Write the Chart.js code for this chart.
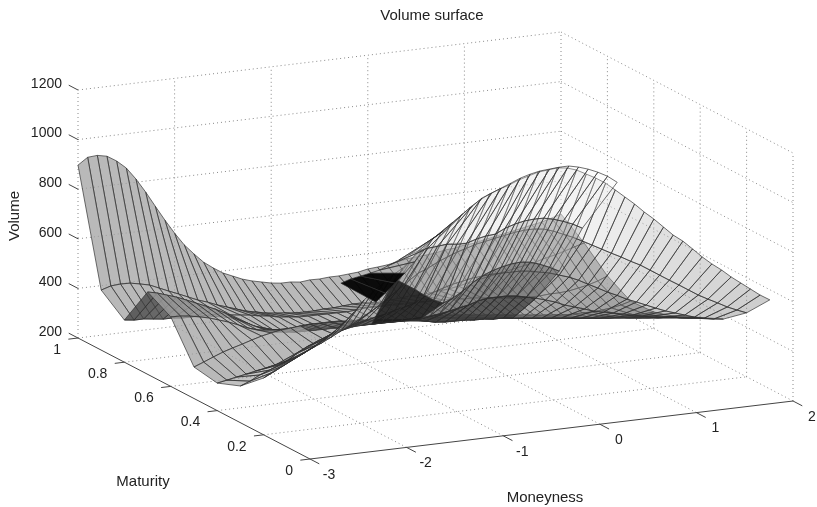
<!DOCTYPE html>
<html>
<head>
<meta charset="utf-8">
<title>Volume surface</title>
<script src="https://cdn.jsdelivr.net/npm/chart.js@4"></script>
<style>
  html, body { margin: 0; padding: 0; background: #fff; }
  canvas { display: block; }
</style>
</head>
<body>
<canvas id="grafik" width="817" height="507"></canvas>
<script>
const judul = 'Volume surface';
const moneyTicks = [-3, -2, -1, 0, 1, 2];
const maturityTicks = [0, 0.2, 0.4, 0.6, 0.8, 1];
const volumeTicks = [200, 400, 600, 800, 1000, 1200];

const moneyGrid = [-3, -2.9, -2.8, -2.7, -2.6, -2.5, -2.4, -2.3, -2.2, -2.1, -2, -1.9, -1.8, -1.7, -1.6, -1.5, -1.4,
  -1.3, -1.2, -1.1, -1, -0.9, -0.8, -0.7, -0.6, -0.5, -0.4, -0.3, -0.2, -0.1, 0, 0.1, 0.2, 0.3, 0.4, 0.5, 0.6, 0.7,
  0.8, 0.9, 1, 1.1, 1.2, 1.3, 1.4, 1.5, 1.6, 1.7, 1.8, 1.9, 2];

// volume per maturity
const vol100 = [897,924,927,919,895,862,813,756,694,633,576,524,483,445,417,392,375,358,346,337,328,323,323,318,322,321,324,324,327,330,338,341,345,352,360,363,366,370,377,380,388,390,399,406,414,421,428,436,443,454,466];
const vol90 = [442,454,457,456,448,439,422,405,389,372,355,342,326,313,300,287,279,270,265,261,256,255,255,258,258,261,264,264,259,258,262,265,269,268,271,275,278,285,293,300,308,315,322,330,337,345,356,364,375,387,398];
const vol80 = [370,365,365,360,355,355,350,350,349,344,343,339,334,329,321,316,307,303,298,297,297,296,296,295,298,302,301,300,300,299,298,298,297,296,296,291,290,286,281,277,272,267,266,266,269,269,272,279,287,298,314];
const vol70 = [532,523,510,497,481,464,447,430,410,385,364,343,331,318,309,304,304,303,302,302,301,300,300,299,299,298,297,297,296,295,295,294,289,285,280,275,271,266,261,257,252,247,243,238,237,237,236,239,243,250,261];
const vol60 = [480,479,474,466,457,444,431,415,398,385,377,368,363,358,358,357,356,356,355,355,354,353,353,352,352,351,350,345,345,340,335,331,326,321,317,312,307,303,298,293,289,284,279,275,270,269,264,264,263,263,266];
const vol50 = [327,342,358,373,385,396,408,419,427,434,437,441,444,443,443,442,437,437,432,428,423,418,414,409,400,391,387,386,385,381,380,375,375,370,366,361,356,352,347,342,337,333,328,323,319,314,309,305,300,299,295];
const vol40 = [311,318,326,333,341,348,355,363,387,402,422,437,453,464,472,474,474,474,473,472,472,471,478,482,489,497,504,516,523,522,522,517,508,499,487,474,457,445,432,419,410,402,393,384,376,371,362,358,349,344,342];
const vol30 = [348,363,383,398,414,429,457,476,492,507,522,534,546,553,561,568,579,587,598,618,633,645,656,663,671,674,677,677,676,676,671,662,654,641,628,611,590,570,549,531,511,495,478,461,445,432,419,406,397,389,384];
const vol20 = [429,448,468,488,507,526,542,561,581,600,620,643,667,694,722,750,777,792,812,828,843,854,866,873,881,888,895,899,899,894,881,864,847,827,806,785,764,744,722,702,677,652,627,603,578,553,532,512,491,474,458];
const vol10 = [543,558,574,593,617,644,676,712,755,787,814,842,865,901,929,965,991,1019,1047,1078,1102,1122,1136,1148,1164,1175,1186,1190,1194,1189,1176,1155,1134,1109,1077,1044,1011,974,941,904,867,838,802,765,732,703,670,641,612,583,559];
const mainMaturity = [1, 0.9, 0.8, 0.7, 0.6, 0.5, 0.4, 0.3, 0.2, 0.1];

// the short second sheet under the hump
const lapis1 = [771,802,838,873,914,957,1001,1024,1056,1084,1111,1139,1154,1170,1185,1201,1212,1220,1223,1226,1226,1217,1204,1187,1166,1137];
const lapis2 = [774,786,793,800,808,823,839,854,866,873,876,880,875,874,886,894,897,916,928,936,939,938,929,916,900,879];
const lapis3 = [704,680,655,626,601,584,600,623,651,674,690,701,709,712,707,694,677,657];

// projection of the 3D box on the picture
function proyeksi(m, t, v) {
  return {
    x: 310 + (m + 3) * 96.6 - t * 232,
    y: 459 - (m + 3) * 11.6 - t * 121 - (v - 200) * 0.248
  };
}

const datasets = [];

function tambahGaris(titik, warna, dash) {
  datasets.push({
    type: 'scatter', data: titik.map(p => proyeksi(p[0], p[1], p[2])), showLine: true, fill: false,
    borderColor: warna, borderWidth: 1, borderDash: dash, pointRadius: 0, tension: 0
  });
}

function tambahPetak(p1, p2, p3, p4, g, a) {
  const pts = [p1, p2, p3, p4, p1].map(p => proyeksi(p[0], p[1], p[2]));
  datasets.push({
    type: 'scatter', data: pts, showLine: true, fill: 'shape',
    backgroundColor: `rgba(${g},${g},${g},${a})`, borderColor: 'rgba(45,45,45,0.68)', borderWidth: 1,
    pointRadius: 0, tension: 0
  });
}

// dataset pertama digambar paling atas, jadi urutan dari depan ke belakang
const barisUtama = [vol100, vol90, vol80, vol70, vol60, vol50, vol40, vol30, vol20, vol10];

function gambarUtama() {
  for (let r = 9; r > 0; r--) {
    const tRendah = mainMaturity[r], tTinggi = mainMaturity[r - 1];
    const a = barisUtama[r], b = barisUtama[r - 1];
    for (let k = 0; k < moneyGrid.length - 1; k++) {
      const turun = (a[k] + a[k + 1] - b[k] - b[k + 1]) / 2;
      let g = 162, alfa = 0.75;
      if (turun > 0 && tRendah < 0.5) {
        // sisi bawah yang terang dan tembus pandang
        const tampak = Math.min(250, 185 + 0.2 * turun);
        alfa = 0.4;
        g = (tampak - 153) / alfa;
      } else if (turun > 0) {
        g = Math.max(50, 162 - 0.6 * turun);
      }
      tambahPetak([moneyGrid[k], tRendah, a[k]], [moneyGrid[k + 1], tRendah, a[k + 1]],
        [moneyGrid[k + 1], tTinggi, b[k + 1]], [moneyGrid[k], tTinggi, b[k]], Math.round(g), alfa);
    }
  }
}

function warnaLapis(r, k) {
  if (r === 0) return k < 11 ? [5, 0.97] : k < 14 ? [170, 0.4] : [245, 0.25];
  if (r === 1) return k < 21 ? [150, 0.4] : [175, 0.4];
  if (r === 2) return k < 21 ? [30, 0.88] : [90, 0.5];
  return k < 21 ? [15, 0.88] : [45, 0.65];
}

function gambarLapis() {
  const baris = [
    { t: 0.05, dari: 8, v: lapis1 }, { t: 0.2, dari: 8, v: lapis2 }, { t: 0.3, dari: 16, v: lapis3 },
    { t: 0.4, dari: 16, v: vol40.slice(16, 34) }, { t: 0.5, dari: 19, v: vol50.slice(19, 34) }
  ];
  for (let r = 0; r < baris.length - 1; r++) {
    const a = baris[r], b = baris[r + 1];
    for (let k = Math.max(a.dari, b.dari); k < 33; k++) {
      const w = warnaLapis(r, k);
      tambahPetak([moneyGrid[k], a.t, a.v[k - a.dari]], [moneyGrid[k + 1], a.t, a.v[k + 1 - a.dari]],
        [moneyGrid[k + 1], b.t, b.v[k + 1 - b.dari]], [moneyGrid[k], b.t, b.v[k - b.dari]], w[0], w[1]);
    }
  }
}

gambarLapis();
gambarUtama();

// sumbu dan kisi
const warnaKisi = '#888';
moneyTicks.forEach(m => {
  tambahGaris([[m, 0, 200], [m, -0.04, 200]], '#444', []);
});
maturityTicks.forEach(t => {
  tambahGaris([[-3, t, 200], [-3.1, t, 200]], '#444', []);
});
volumeTicks.forEach(v => {
  tambahGaris([[-3, 1, v], [-3, 1.04, v]], '#444', []);
});
tambahGaris([[-3, 0, 200], [2, 0, 200]], '#444', []);
tambahGaris([[-3, 0, 200], [-3, 1, 200]], '#444', []);
moneyTicks.forEach(m => {
  if (m > -3) tambahGaris([[m, 0, 200], [m, 1, 200]], warnaKisi, [1, 3]);
  tambahGaris([[m, 1, 200], [m, 1, 1200]], warnaKisi, [1, 3]);
});
maturityTicks.forEach(t => {
  if (t > 0) tambahGaris([[-3, t, 200], [2, t, 200]], warnaKisi, [1, 3]);
  if (t < 1) tambahGaris([[2, t, 200], [2, t, 1200]], warnaKisi, [1, 3]);
});
volumeTicks.forEach(v => {
  if (v > 200) tambahGaris([[-3, 1, v], [2, 1, v]], warnaKisi, [1, 3]);
  if (v > 200) tambahGaris([[2, 1, v], [2, 0, v]], warnaKisi, [1, 3]);
});

const tulisan = {
  id: 'tulisan',
  afterDraw(chart) {
    const { ctx, scales } = chart;
    const px = p => ({ x: scales.x.getPixelForValue(p.x), y: scales.y.getPixelForValue(p.y) });
    ctx.save();
    ctx.fillStyle = '#222';
    ctx.font = '14px "Liberation Sans", Arial, sans-serif';
    ctx.textBaseline = 'middle';
    ctx.textAlign = 'right';
    volumeTicks.forEach(v => {
      const p = px(proyeksi(-3, 1, v));
      ctx.fillText(String(v), p.x - 16, p.y - 6);
    });
    maturityTicks.forEach(t => {
      const p = px(proyeksi(-3, t, 200));
      ctx.fillText(String(t), p.x - 17, p.y + 12);
    });
    ctx.textAlign = 'center';
    moneyTicks.forEach(m => {
      const p = px(proyeksi(m, 0, 200));
      ctx.fillText(String(m), p.x + 19, p.y + 16);
    });
    ctx.font = '15px "Liberation Sans", Arial, sans-serif';
    ctx.fillText('Maturity', 143, 482);
    ctx.fillText('Moneyness', 545, 498);
    ctx.fillText(judul, 432, 16);
    ctx.translate(15, 216);
    ctx.rotate(-Math.PI / 2);
    ctx.fillText('Volume', 0, 0);
    ctx.restore();
  }
};

new Chart(document.getElementById('grafik').getContext('2d'), {
  type: 'scatter',
  data: { datasets },
  plugins: [tulisan],
  options: {
    responsive: false,
    animation: false,
    events: [],
    layout: { padding: 0 },
    plugins: { legend: { display: false }, tooltip: { enabled: false }, title: { display: false } },
    scales: {
      x: { type: 'linear', min: 0, max: 817, display: false },
      y: { type: 'linear', min: 0, max: 507, reverse: true, display: false }
    }
  }
});
</script>
</body>
</html>
